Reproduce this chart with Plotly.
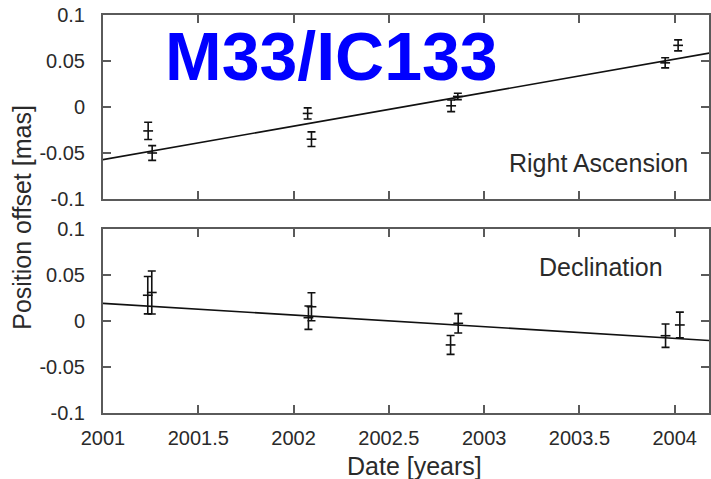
import plotly.graph_objects as go

# ---------------- data ----------------
ra_t = [2001.237, 2001.258, 2002.074, 2002.094, 2002.827, 2002.862, 2003.950, 2004.018]
ra_v = [-0.026, -0.050, -0.007, -0.035, 0.0013, 0.0115, 0.048, 0.067]
ra_err = [0.0094, 0.008, 0.006, 0.008, 0.0063, 0.0035, 0.0055, 0.006]

dec_t = [2001.235, 2001.256, 2002.078, 2002.094, 2002.824, 2002.864, 2003.952, 2004.027]
dec_v = [0.028, 0.031, 0.0036, 0.0155, -0.026, -0.0025, -0.016, -0.0043]
dec_err = [0.0203, 0.0234, 0.0127, 0.0152, 0.0103, 0.0105, 0.0127, 0.014]

# linear fits: [value at 2001, slope per year]
ra_fit = [-0.0572, 0.0364]
dec_fit = [0.0192, -0.0127]

x_range = [2001.0, 2004.18]
x_ticks = [2001, 2001.5, 2002, 2002.5, 2003, 2003.5, 2004]
x_ticklabels = ["2001", "2001.5", "2002", "2002.5", "2003", "2003.5", "2004"]
y_ticks = [-0.1, -0.05, 0, 0.05, 0.1]
y_ticklabels = ["-0.1", "-0.05", "0", "0.05", "0.1"]

title_text = "M33/IC133"
ra_label = "Right Ascension"
dec_label = "Declination"
x_title = "Date [years]"
y_title = "Position offset [mas]"

# ---------------- figure ----------------
W, H = 711, 479
ML, MR, MT, MB = 103, 0, 15, 66
FONT = "Liberation Sans, Arial, Helvetica, sans-serif"
AXC = "#5a5a5a"
TXC = "#2a2a2a"

fig = go.Figure()

def fit_line(fit):
    xs = [x_range[0] - 0.05, x_range[1] + 0.05]
    ys = [fit[0] + fit[1] * (x - 2001.0) for x in xs]
    return xs, ys

for (t, v, e, fit, xa, ya) in [
    (ra_t, ra_v, ra_err, ra_fit, "x", "y"),
    (dec_t, dec_v, dec_err, dec_fit, "x2", "y2"),
]:
    lx, ly = fit_line(fit)
    fig.add_trace(go.Scatter(x=lx, y=ly, mode="lines",
                             line=dict(color="#111111", width=1.6),
                             xaxis=xa, yaxis=ya, showlegend=False,
                             hoverinfo="skip"))
    fig.add_trace(go.Scatter(x=t, y=v, mode="markers",
                             marker=dict(symbol="line-ew", size=7,
                                         line=dict(color="#111111", width=1.6)),
                             error_y=dict(type="data", array=e, visible=True,
                                          color="#111111", thickness=1.6, width=4),
                             xaxis=xa, yaxis=ya, showlegend=False))

plot_h = H - MT - MB
top_dom = [(plot_h - 184) / plot_h, 1.0]
bot_dom = [0.0, 184 / plot_h]

xcommon = dict(range=x_range, tickvals=x_ticks, ticktext=x_ticklabels,
               ticks="inside", ticklen=8, tickwidth=1.5, tickcolor=AXC,
               showline=True, linecolor=AXC, linewidth=2, mirror="ticks",
               showgrid=False, zeroline=False,
               tickfont=dict(family=FONT, size=20, color=TXC))
ycommon = dict(range=[-0.1, 0.1], tickvals=y_ticks, ticktext=y_ticklabels,
               ticks="inside", ticklen=8, tickwidth=1.5, tickcolor=AXC,
               showline=True, linecolor=AXC, linewidth=2, mirror="ticks",
               showgrid=False, zeroline=False, ticklabelstandoff=12,
               tickfont=dict(family=FONT, size=20, color=TXC))

fig.update_layout(
    width=W, height=H,
    margin=dict(l=ML, r=MR, t=MT, b=MB, pad=0),
    paper_bgcolor="white", plot_bgcolor="white",
    xaxis=dict(**xcommon, anchor="y", showticklabels=False),
    yaxis=dict(**ycommon, domain=top_dom, anchor="x"),
    xaxis2=dict(**xcommon, anchor="y2", matches="x", showticklabels=True,
                ticklabelstandoff=6),
    yaxis2=dict(**ycommon, domain=bot_dom, anchor="x2"),
    font=dict(family=FONT, color=TXC),
)

px_per_year = (W - ML - MR) / (x_range[1] - x_range[0])

def xdata(px):
    return x_range[0] + (px - ML) / px_per_year

fig.add_annotation(text=title_text, x=xdata(332), y=0.055, xref="x", yref="y",
                   xanchor="center", yanchor="middle", showarrow=False,
                   font=dict(family="Liberation Sans, Arial, sans-serif",
                             size=68, color="#0000ff", weight="bold"))
fig.add_annotation(text=ra_label, x=xdata(692), y=-0.061, xref="x", yref="y",
                   xanchor="right", yanchor="middle", showarrow=False,
                   font=dict(family=FONT, size=25, color=TXC))
fig.add_annotation(text=dec_label, x=xdata(603), y=0.059, xref="x2", yref="y2",
                   xanchor="center", yanchor="middle", showarrow=False,
                   font=dict(family=FONT, size=25, color=TXC))
fig.add_annotation(text=y_title, x=(21 - ML) / (W - ML - MR),
                   y=(H - MB - 217.5) / plot_h, xref="paper", yref="paper",
                   xanchor="center", yanchor="middle", textangle=-90,
                   showarrow=False, font=dict(family=FONT, size=25, color=TXC))
fig.add_annotation(text=x_title, x=(416 - ML) / (W - ML - MR),
                   y=(H - MB - 466) / plot_h, xref="paper", yref="paper",
                   xanchor="center", yanchor="middle", showarrow=False,
                   font=dict(family=FONT, size=25, color=TXC))

fig.write_html("out.html")
